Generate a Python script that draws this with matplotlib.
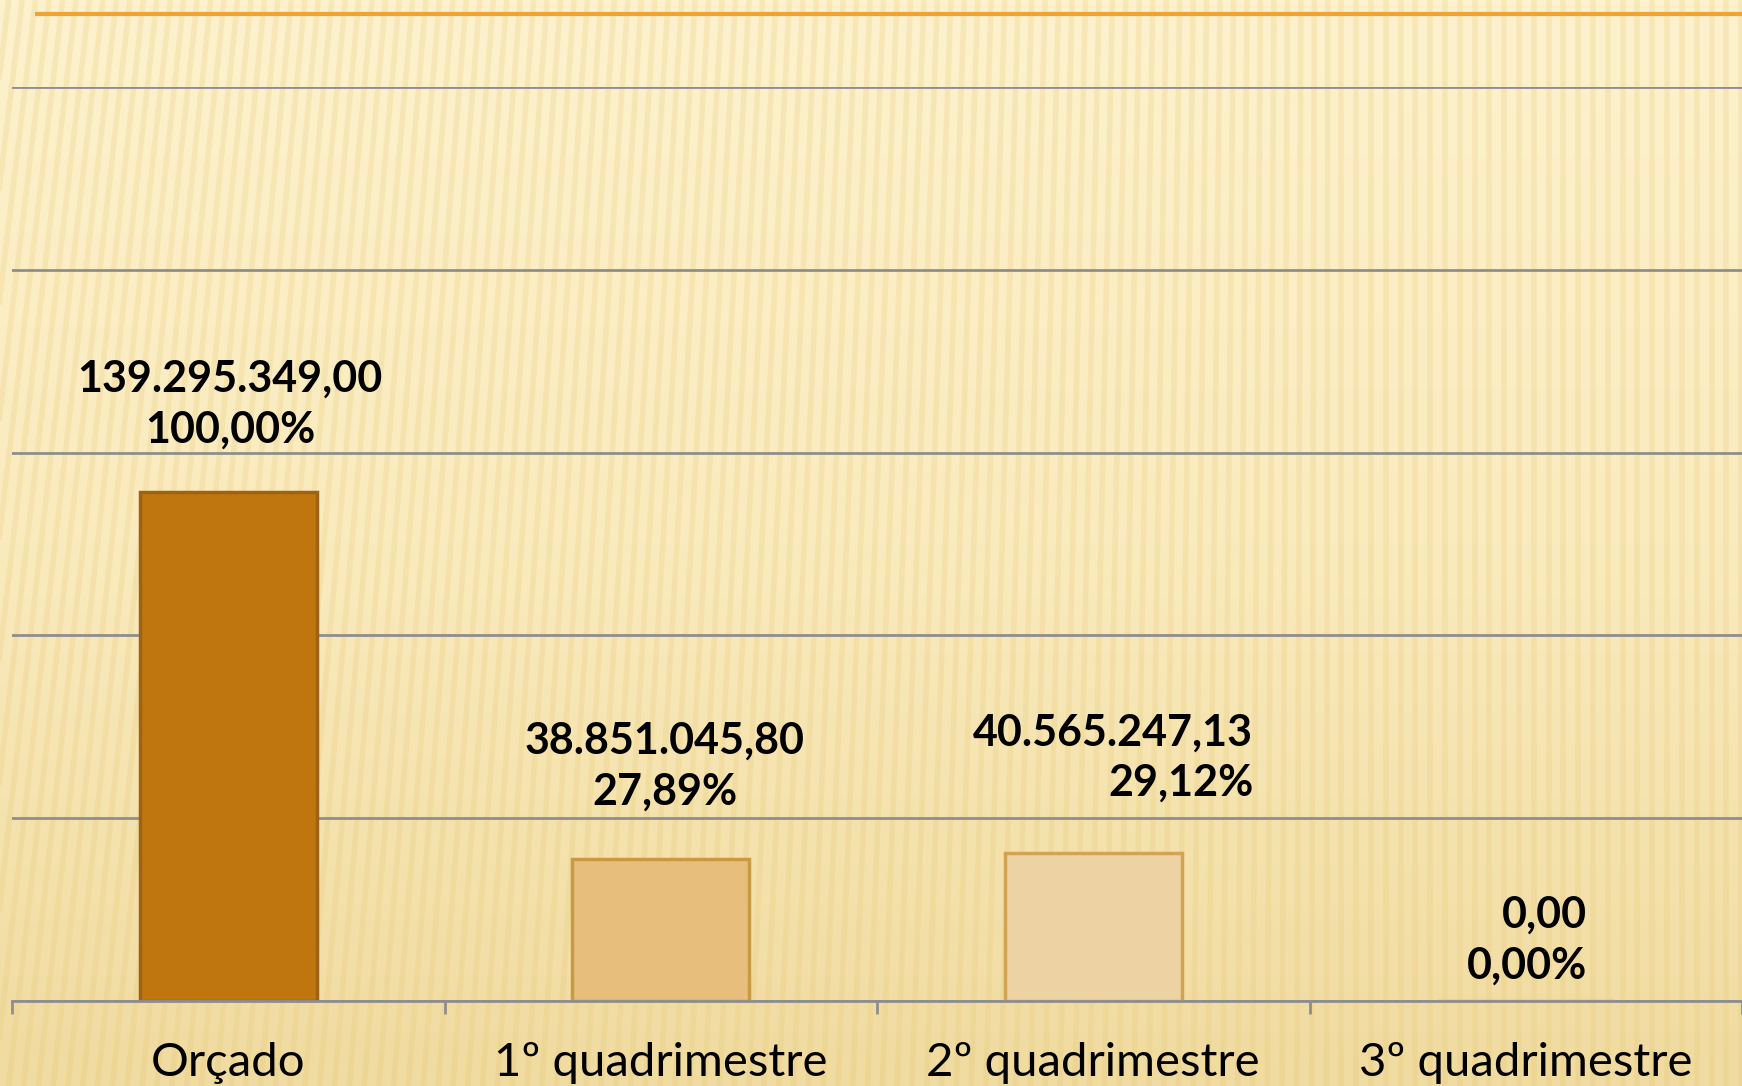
import numpy as np
import matplotlib
matplotlib.use('Agg')
import matplotlib.pyplot as plt
from matplotlib.colors import LinearSegmentedColormap

# Data
categorias = ['Orçado', '1º quadrimestre', '2º quadrimestre', '3º quadrimestre']
valores = [139295349.00, 38851045.80, 40565247.13, 0.00]
percentuais = ['100,00%', '27,89%', '29,12%', '0,00%']
rotulos_valor = ['139.295.349,00', '38.851.045,80', '40.565.247,13', '0,00']

cores = ['#C0760F', '#E8BE7C', '#EDD2A4', '#EDD2A4']
bordas = ['#9E6212', '#C89A44', '#D2A452', '#D2A452']

fig = plt.figure(figsize=(17.42, 10.86), dpi=100)

# Background gradient + faint stripes (slide texture approximation)
bg = fig.add_axes([0, 0, 1, 1], zorder=0)
grad = np.linspace(0, 1, 256).reshape(-1, 1)
bg_cmap = LinearSegmentedColormap.from_list('bg', ['#FDF2CD', '#FAEBBE', '#F0DBA0'])
bg.imshow(grad, aspect='auto', cmap=bg_cmap, extent=[0, 1, 0, 1], origin='upper')
for xs in np.arange(-0.08, 1.0, 0.0085):
    tilt = 0.07 * max(0.0, 1 - xs * 1.3)
    bg.plot([xs, xs + tilt], [0, 1], color='#E6C66E', lw=4, alpha=0.22,
            solid_capstyle='butt')
bg.plot([0.02, 1.0], [0.987, 0.987], color='#F0A232', lw=3, solid_capstyle='butt')
bg.set_xlim(0, 1)
bg.set_ylim(0, 1)
bg.axis('off')

ax = fig.add_axes([12 / 1742, 1 - 1001 / 1086, 1 - 12 / 1742, (1001 - 87) / 1086], zorder=1)
ax.patch.set_alpha(0)

x = np.arange(len(categorias))
ax.bar(x, valores, width=0.41, color=cores, edgecolor=bordas, linewidth=2.5, zorder=3)

ax.set_xlim(-0.5, len(categorias) - 0.5)
ax.set_ylim(0, 250e6)
ax.set_yticks(np.arange(0, 250e6 + 1, 50e6))
ax.yaxis.grid(True, color='#8E8E8E', linewidth=2, zorder=1)
ax.tick_params(axis='y', left=False, labelleft=False)

for s in ['top', 'right', 'left']:
    ax.spines[s].set_visible(False)
ax.spines['bottom'].set_color('#8E8E8E')
ax.spines['bottom'].set_linewidth(2)
ax.spines['bottom'].set_zorder(4)

ax.set_xticks(x)
ax.set_xticklabels(categorias, fontfamily='Lato', fontsize=34, color='black')
ax.tick_params(axis='x', which='major', length=0, pad=29.5)
ax.set_xticks(np.arange(-0.5, len(categorias)), minor=True)
ax.tick_params(axis='x', which='minor', length=9, width=2, color='#8E8E8E')

# Data labels (positions adjusted by hand in the original slide)
offsets = [(2, 88, 'center'), (4, 93, 'center'), (160, 95, 'right'), (61, 61, 'right')]
for i, (dx, dy, ha) in enumerate(offsets):
    ax.annotate(rotulos_valor[i] + '\n' + percentuais[i], xy=(x[i], valores[i]),
                xytext=(dx, dy), textcoords='offset pixels', ha=ha, va='center',
                multialignment=ha, fontfamily='Lato', fontweight='bold',
                fontsize=31, linespacing=1.33, color='black', zorder=5)

fig.savefig('out.png', dpi=100)
